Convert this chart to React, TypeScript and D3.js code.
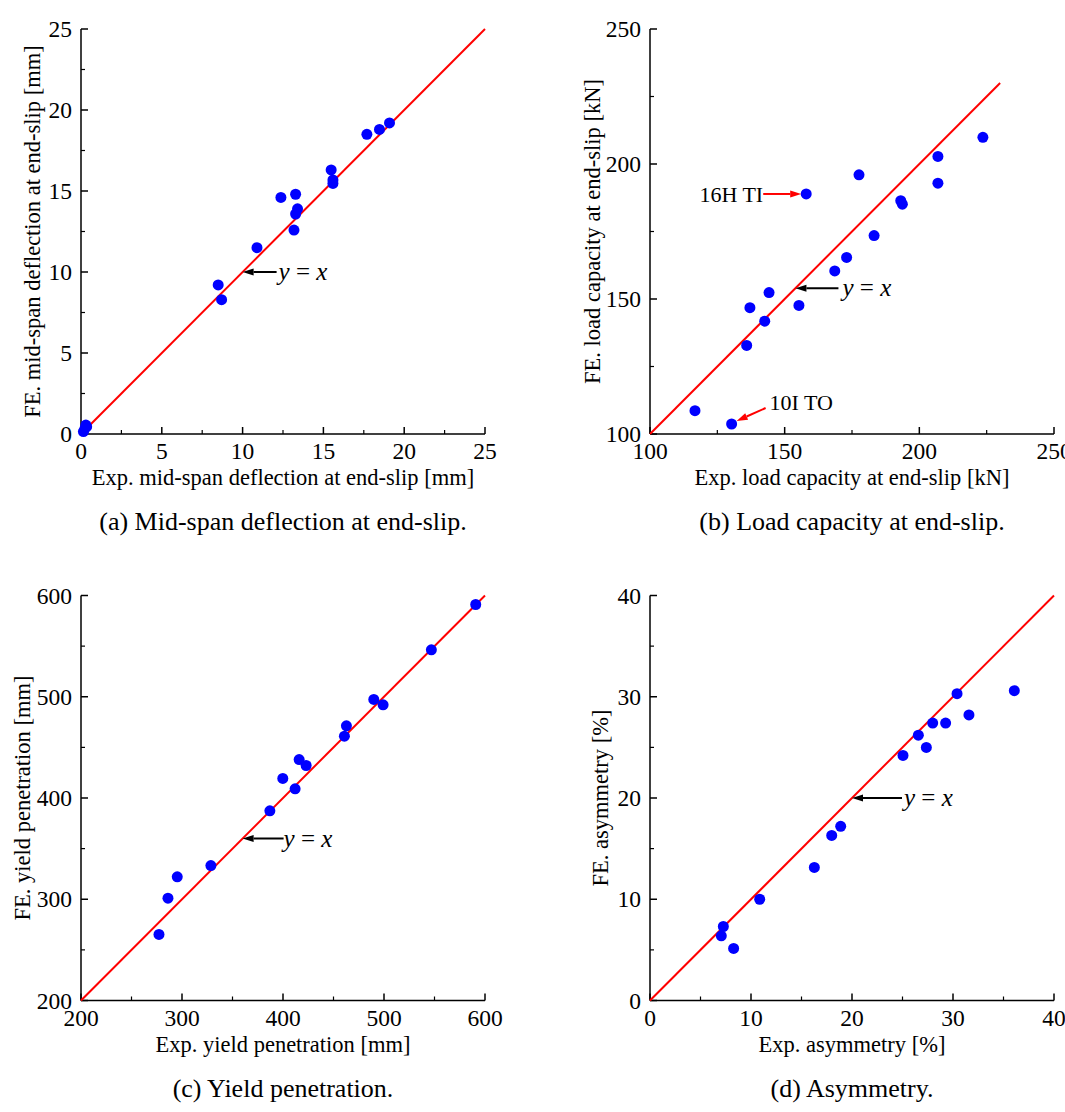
import React from "react";
import * as d3 from "d3";

// ---------- DATA ----------
// (a) Mid-span deflection at end-slip [mm]
const aExp = [0.15, 0.25, 0.3, 0.35, 8.49, 8.7, 10.89, 12.37, 13.28, 13.4, 13.28, 13.18, 15.48, 15.59, 15.59, 17.69, 18.47, 19.09];
const aFE = [0.15, 0.35, 0.55, 0.45, 9.2, 8.29, 11.5, 14.6, 14.8, 13.9, 13.58, 12.59, 16.3, 15.68, 15.47, 18.5, 18.8, 19.2];
const aTicks = [0, 5, 10, 15, 20, 25];

// (b) Load capacity at end-slip [kN]
const bExp = [116.7, 130.3, 135.9, 137.1, 142.6, 144.2, 155.3, 158.0, 168.6, 173.0, 177.6, 183.2, 193.1, 193.7, 206.9, 206.9, 223.6];
const bFE = [108.65, 103.7, 132.8, 146.8, 141.8, 152.4, 147.6, 188.9, 160.4, 165.4, 196.0, 173.5, 186.4, 185.1, 202.8, 192.9, 209.9];
const bTicks = [100, 150, 200, 250];

// (c) Yield penetration [mm]
const cExp = [277.2, 286.1, 295.3, 328.6, 387.0, 399.8, 412.0, 416.0, 422.9, 460.8, 462.8, 489.9, 499.1, 546.9, 590.8];
const cFE = [265.2, 301.1, 322.1, 333.3, 387.3, 419.3, 409.1, 438.0, 432.1, 461.1, 471.3, 497.3, 492.0, 546.3, 591.1];
const cTicks = [200, 300, 400, 500, 600];

// (d) Asymmetry [%]
const dExp = [7.06, 7.26, 8.28, 10.86, 16.27, 17.99, 18.88, 25.05, 26.57, 27.36, 27.99, 29.27, 30.4, 31.58, 36.07];
const dFE = [6.39, 7.31, 5.14, 10.0, 13.14, 16.3, 17.2, 24.2, 26.2, 25.0, 27.4, 27.4, 30.3, 28.2, 30.6];
const dTicks = [0, 10, 20, 30, 40];

const xTitles = [
  "Exp. mid-span deflection at end-slip [mm]",
  "Exp. load capacity at end-slip [kN]",
  "Exp. yield penetration [mm]",
  "Exp. asymmetry [%]",
];
const yTitles = [
  "FE. mid-span deflection at end-slip [mm]",
  "FE. load capacity at end-slip [kN]",
  "FE. yield penetration [mm]",
  "FE. asymmetry [%]",
];
const captions = [
  "(a) Mid-span deflection at end-slip.",
  "(b) Load capacity at end-slip.",
  "(c) Yield penetration.",
  "(d) Asymmetry.",
];
// y = x line extents and annotation anchor (data units)
const lineEnds = [25, 230, 600, 40];
const yxAnchor = [10, 154, 360, 20];

// ---------- LAYOUT ----------
const FONT = "'Liberation Serif', 'Times New Roman', serif";

type Panel = {
  xs: number[]; ys: number[]; ticks: number[]; lineStart: number; lineEnd: number;
  left: number; right: number; bottom: number; top: number;
  xTitle: string; yTitle: string; caption: string; yTitleX: number;
  anchor: number; arrowLen: number; textGap: number;
};

const panels: Panel[] = [
  { xs: aExp, ys: aFE, ticks: aTicks, lineStart: 0, lineEnd: lineEnds[0], left: 81, right: 485, bottom: 434, top: 29,
    xTitle: xTitles[0], yTitle: yTitles[0], caption: captions[0], yTitleX: 32, anchor: yxAnchor[0], arrowLen: 34, textGap: 2 },
  { xs: bExp, ys: bFE, ticks: bTicks, lineStart: 100, lineEnd: lineEnds[1], left: 650, right: 1054, bottom: 434, top: 29,
    xTitle: xTitles[1], yTitle: yTitles[1], caption: captions[1], yTitleX: 592, anchor: yxAnchor[1], arrowLen: 43, textGap: 4 },
  { xs: cExp, ys: cFE, ticks: cTicks, lineStart: 200, lineEnd: lineEnds[2], left: 81, right: 485, bottom: 1000.5, top: 595.5,
    xTitle: xTitles[2], yTitle: yTitles[2], caption: captions[2], yTitleX: 22, anchor: yxAnchor[2], arrowLen: 41, textGap: 0 },
  { xs: dExp, ys: dFE, ticks: dTicks, lineStart: 0, lineEnd: lineEnds[3], left: 650, right: 1054, bottom: 1000.5, top: 595.5,
    xTitle: xTitles[3], yTitle: yTitles[3], caption: captions[3], yTitleX: 600, anchor: yxAnchor[3], arrowLen: 50, textGap: 2 },
];

function Arrow({ x1, y1, x2, y2, color }: { x1: number; y1: number; x2: number; y2: number; color: string }) {
  const ang = Math.atan2(y2 - y1, x2 - x1);
  const L = 11, W = 3.5;
  const bx = x2 - L * Math.cos(ang), by = y2 - L * Math.sin(ang);
  const px = -Math.sin(ang) * W, py = Math.cos(ang) * W;
  return (
    <g>
      <line x1={x1} y1={y1} x2={bx} y2={by} stroke={color} strokeWidth={2} />
      <path d={`M${x2},${y2}L${bx + px},${by + py}L${bx - px},${by - py}Z`} fill={color} />
    </g>
  );
}

function PanelView({ p }: { p: Panel }) {
  const lo = p.ticks[0], hi = p.ticks[p.ticks.length - 1];
  const x = d3.scaleLinear().domain([lo, hi]).range([p.left, p.right]);
  const y = d3.scaleLinear().domain([lo, hi]).range([p.bottom, p.top]);
  const step = p.ticks[1] - p.ticks[0];
  const minors = d3.range(lo + step / 2, hi, step);
  const line = d3.line<[number, number]>().x((d) => x(d[0])).y((d) => y(d[1]));
  const tipX = x(p.anchor), tipY = y(p.anchor);
  const tailX = tipX + p.arrowLen;
  const cx = (p.left + p.right) / 2;
  return (
    <g fontFamily={FONT} fill="#000">
      <line x1={p.left} y1={p.bottom} x2={p.right} y2={p.bottom} stroke="#000" strokeWidth={1.5} />
      <line x1={p.left} y1={p.bottom} x2={p.left} y2={p.top} stroke="#000" strokeWidth={1.5} />
      {p.ticks.map((t) => (
        <g key={"t" + t}>
          <line x1={x(t)} y1={p.bottom} x2={x(t)} y2={p.bottom - 7} stroke="#000" strokeWidth={1.5} />
          <line x1={p.left} y1={y(t)} x2={p.left + 7} y2={y(t)} stroke="#000" strokeWidth={1.5} />
          <text x={x(t)} y={p.bottom + 25} fontSize={23.5} textAnchor="middle">{t}</text>
          <text x={p.left - 9} y={y(t) + 8} fontSize={23.5} textAnchor="end">{t}</text>
        </g>
      ))}
      {minors.map((t) => (
        <g key={"m" + t}>
          <line x1={x(t)} y1={p.bottom} x2={x(t)} y2={p.bottom - 4} stroke="#000" strokeWidth={1.2} />
          <line x1={p.left} y1={y(t)} x2={p.left + 4} y2={y(t)} stroke="#000" strokeWidth={1.2} />
        </g>
      ))}
      <text x={cx} y={p.bottom + 51} fontSize={22.5} textAnchor="middle">{p.xTitle}</text>
      <text transform={`translate(${p.yTitleX},${(p.top + p.bottom) / 2}) rotate(-90)`} y={7.5} fontSize={22.5} textAnchor="middle">{p.yTitle}</text>
      <text x={cx} y={p.bottom + 96} fontSize={26} textAnchor="middle">{p.caption}</text>
      <path d={line([[p.lineStart, p.lineStart], [p.lineEnd, p.lineEnd]]) || ""} stroke="#ff0000" strokeWidth={2} fill="none" />
      {p.xs.map((v, i) => (
        <circle key={i} cx={x(v)} cy={y(p.ys[i])} r={5.5} fill="#0000ff" />
      ))}
      <Arrow x1={tailX} y1={tipY} x2={tipX} y2={tipY} color="#000" />
      <text x={tailX + p.textGap} y={tipY + 8} fontSize={25} fontStyle="italic">
        y<tspan fontStyle="normal"> = </tspan>x
      </text>
    </g>
  );
}

export default function App() {
  const pb = panels[1];
  const xb = d3.scaleLinear().domain([100, 250]).range([pb.left, pb.right]);
  const yb = d3.scaleLinear().domain([100, 250]).range([pb.bottom, pb.top]);
  const p16x = xb(bExp[7]), p16y = yb(bFE[7]);
  const p10x = xb(bExp[1]), p10y = yb(bFE[1]);
  return (
    <svg width={1065} height={1112} style={{ position: "absolute", left: 0, top: 0, background: "#fff" }}>
      <rect width={1065} height={1112} fill="#fff" />
      {panels.map((p, i) => (
        <PanelView key={i} p={p} />
      ))}
      <g fontFamily={FONT}>
        <text x={p16x - 43} y={p16y + 8} fontSize={22} textAnchor="end">16H TI</text>
        <Arrow x1={p16x - 43} y1={p16y} x2={p16x - 5} y2={p16y} color="#ff0000" />
        <text x={p10x + 38} y={p10y - 14} fontSize={22}>10I TO</text>
        <Arrow x1={p10x + 34} y1={p10y - 16} x2={p10x + 5} y2={p10y - 3} color="#ff0000" />
      </g>
    </svg>
  );
}
